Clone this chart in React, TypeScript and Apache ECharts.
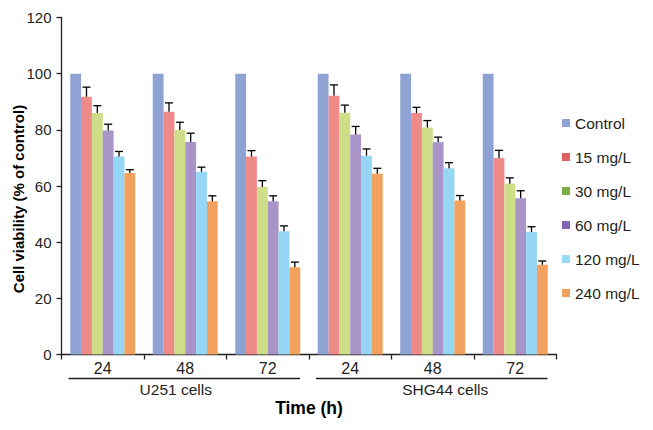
import React, { useEffect, useRef } from "react";
import * as echarts from "echarts";

const groups = ["U251 cells", "SHG44 cells"];
const times = ["24", "48", "72"];
const seriesNames = ["Control", "15 mg/L", "30 mg/L", "60 mg/L", "120 mg/L", "240 mg/L"];
const barColors = ["#8EA2D3", "#EE8A88", "#CEDD88", "#A994C8", "#94D6F3", "#F2A25E"];
const legendColors = ["#8EA2D6", "#E0615F", "#7AAE47", "#8363B3", "#98DBF5", "#F3A05E"];

const control = [100, 100, 100, 100, 100, 100];
const dose15 = [91.8, 86.4, 70.5, 92.1, 86.0, 70.0];
const dose30 = [86.0, 79.9, 59.6, 86.1, 80.8, 60.8];
const dose60 = [79.8, 75.7, 54.6, 78.3, 75.6, 55.6];
const dose120 = [70.5, 65.1, 43.9, 70.8, 66.3, 43.6];
const dose240 = [64.6, 54.6, 31.1, 64.4, 54.8, 32.0];

const err15 = [3.4, 3.2, 2.1, 3.9, 2.0, 2.7];
const err30 = [2.6, 2.8, 2.3, 2.7, 2.5, 2.1];
const err60 = [2.2, 3.1, 1.9, 2.9, 1.8, 2.7];
const err120 = [1.8, 1.6, 1.9, 2.4, 2.0, 1.9];
const err240 = [1.2, 1.9, 1.8, 1.9, 1.8, 1.3];

const yTicks = { min: 0, max: 120, interval: 20 };

const FONT = '"Liberation Sans", Arial, Helvetica, sans-serif';
const TEXT = "#231f20";
const CAT_GAP = 0.212;

export default function App() {
  const ref = useRef<HTMLDivElement>(null);

  useEffect(() => {
    if (!ref.current) return;
    const chart = echarts.init(ref.current, undefined, { renderer: "svg" });

    const categories: string[] = [];
    const tickLabels: string[] = [];
    groups.forEach((g) =>
      times.forEach((t) => {
        categories.push(g + "|" + t);
        tickLabels.push(t);
      })
    );

    const values = [control, dose15, dose30, dose60, dose120, dose240];
    const errs = [null, err15, err30, err60, err120, err240];

    const errData: number[][] = [];
    for (let s = 1; s < values.length; s++) {
      const e = errs[s] as number[];
      for (let c = 0; c < categories.length; c++) {
        errData.push([c, s, values[s][c], e[c]]);
      }
    }

    const barSeries = seriesNames.map((name, i) => ({
      name,
      type: "bar",
      data: values[i],
      barGap: "0%",
      barCategoryGap: (CAT_GAP * 100).toFixed(1) + "%",
      itemStyle: { color: barColors[i] },
      emphasis: { disabled: true },
    }));

    const option: any = {
      animation: false,
      backgroundColor: "#ffffff",
      textStyle: { fontFamily: FONT, color: TEXT },
      grid: {
        left: 61.5,
        right: 96.5,
        top: 17.5,
        bottom: 75.5,
        containLabel: false,
        outerBoundsMode: "none",
      },
      legend: {
        orient: "vertical",
        left: 562,
        top: 115,
        padding: 0,
        itemWidth: 8,
        itemHeight: 8,
        itemGap: 18,
        icon: "rect",
        selectedMode: false,
        textStyle: { fontSize: 15.5, color: TEXT, fontFamily: FONT },
        data: seriesNames.map((n, i) => ({ name: n, icon: "rect", itemStyle: { color: legendColors[i] } })),
      },
      xAxis: {
        type: "category",
        data: categories,
        boundaryGap: true,
        axisLine: { show: true, lineStyle: { color: TEXT, width: 1.3 } },
        axisTick: { show: true, length: 5, inside: false, lineStyle: { color: TEXT, width: 1.3 } },
        axisLabel: {
          fontSize: 16,
          color: TEXT,
          margin: 6,
          fontFamily: FONT,
          formatter: (_v: string, idx: number) => tickLabels[idx],
        },
        splitLine: { show: false },
        name: "Time (h)",
        nameLocation: "middle",
        nameGap: 44,
        nameTextStyle: { fontSize: 17.5, fontWeight: "bold", color: "#000", fontFamily: FONT },
      },
      yAxis: {
        type: "value",
        min: yTicks.min,
        max: yTicks.max,
        interval: yTicks.interval,
        axisLine: { show: true, lineStyle: { color: TEXT, width: 1.3 } },
        axisTick: { show: true, length: 5, inside: false, lineStyle: { color: TEXT, width: 1.3 } },
        axisLabel: { fontSize: 15, color: TEXT, margin: 10, fontFamily: FONT },
        splitLine: { show: false },
      },
      series: [
        ...barSeries,
        {
          name: "err",
          type: "custom",
          data: errData,
          encode: { x: 0, y: 2 },
          z: 5,
          silent: true,
          renderItem: (_params: any, api: any) => {
            const cat = api.value(0);
            const si = api.value(1);
            const top = api.value(2);
            const err = api.value(3);
            const base = api.coord([cat, top]);
            const hi = api.coord([cat, top + err]);
            const band = api.size([1, 0])[0];
            const groupW = band * (1 - CAT_GAP);
            const bw = groupW / 6;
            const x = base[0] - groupW / 2 + (si + 0.5) * bw;
            const cap = 4;
            const style = { stroke: "#000", lineWidth: 1.3 };
            return {
              type: "group",
              children: [
                { type: "line", shape: { x1: x, y1: base[1], x2: x, y2: hi[1] }, style },
                { type: "line", shape: { x1: x - cap, y1: hi[1], x2: x + cap, y2: hi[1] }, style },
              ],
            };
          },
        },
      ],
    };

    chart.setOption(option);

    // group brackets under the tick labels, and the y-axis title
    const c0 = chart.convertToPixel({ xAxisIndex: 0 }, 0) as number;
    const c1 = chart.convertToPixel({ xAxisIndex: 0 }, 1) as number;
    const band = c1 - c0;
    const axisY = chart.convertToPixel({ yAxisIndex: 0 }, 0) as number;
    const axisTop = chart.convertToPixel({ yAxisIndex: 0 }, yTicks.max) as number;
    const axisX = c0 - band / 2;
    const labelShift = [-8.5, 13.5];
    const graphics: any[] = [
      {
        type: "text",
        x: axisX - 43,
        y: (axisY + axisTop) / 2 + 13,
        rotation: Math.PI / 2,
        style: {
          text: "Cell viability (% of control)",
          fontSize: 15,
          fontWeight: "bold",
          fontFamily: FONT,
          fill: "#000",
          align: "center",
          verticalAlign: "middle",
        },
        silent: true,
      },
    ];
    groups.forEach((g, gi) => {
      const firstIdx = gi * times.length;
      const lastIdx = firstIdx + times.length - 1;
      const left = (chart.convertToPixel({ xAxisIndex: 0 }, firstIdx) as number) - band / 2 + 7;
      const right = (chart.convertToPixel({ xAxisIndex: 0 }, lastIdx) as number) + band / 2 - 9;
      const mid = (left + right) / 2;
      graphics.push({
        type: "line",
        shape: { x1: left, y1: axisY + 24, x2: right, y2: axisY + 24 },
        style: { stroke: TEXT, lineWidth: 1.3 },
        silent: true,
      });
      graphics.push({
        type: "text",
        x: mid + labelShift[gi],
        y: axisY + 35,
        style: {
          text: g,
          fontSize: 15.5,
          fontFamily: FONT,
          fill: TEXT,
          align: "center",
          verticalAlign: "middle",
        },
        silent: true,
      });
    });
    chart.setOption({ graphic: graphics });

    return () => chart.dispose();
  }, []);

  return (
    <div
      ref={ref}
      style={{ position: "fixed", left: 0, top: 0, width: 653, height: 430, background: "#fff" }}
    />
  );
}
